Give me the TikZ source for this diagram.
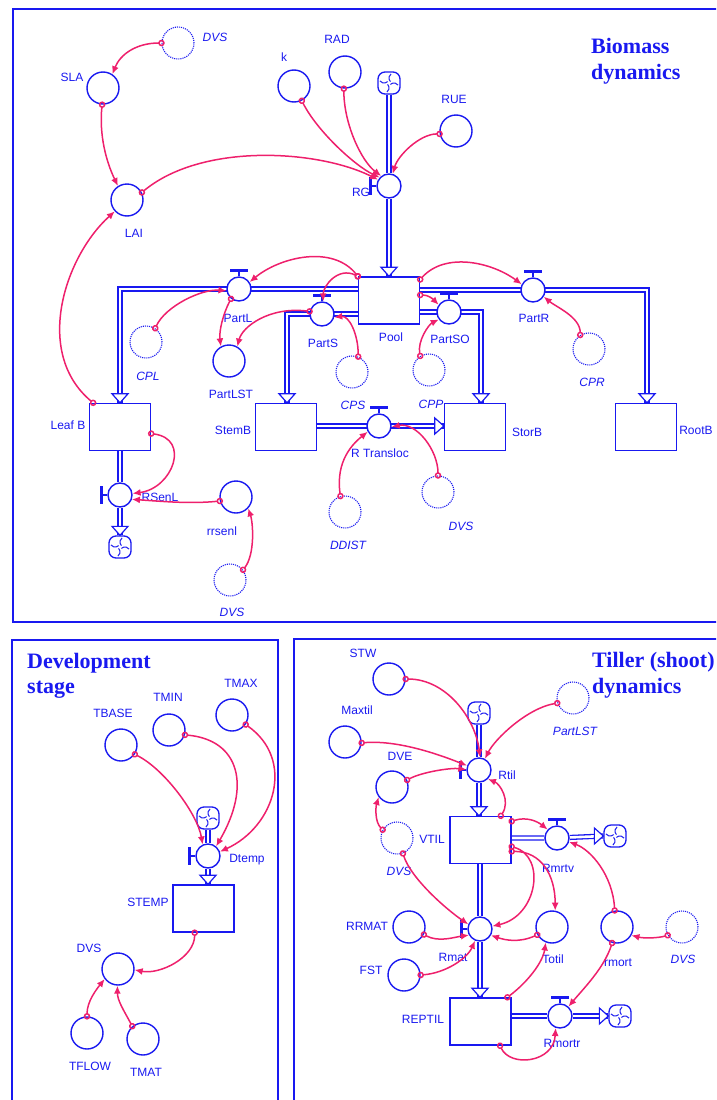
\documentclass[tikz,border=0pt]{standalone}
\usepackage{fontspec}
\usetikzlibrary{arrows.meta,backgrounds}
\newfontfamily\lblf{Liberation Sans}
\newfontfamily\ttlf{Liberation Serif}
\definecolor{sblue}{RGB}{25,25,240}
\definecolor{spink}{RGB}{238,32,108}
\newcommand\tophandle[1]{\draw[sblue,line width=1.4] (#1.north) -- ++(0,-5);\draw[sblue,line width=3] (#1.north) ++(-9,-6) -- ++(18,0);}
\newcommand\lefthandle[1]{\draw[sblue,line width=1.4] (#1.west) -- ++(-5,0);\draw[sblue,line width=3] (#1.west) ++(-6,-9) -- ++(0,18);}
\newcommand\flowdown[1]{\draw[sblue,line width=1.2,fill=white] (#1) -- ++(-8,-9) -- ++(16,0) -- cycle;}
\newcommand\flowright[1]{\draw[sblue,line width=1.2,fill=white] (#1) -- ++(-9,-8) -- ++(0,16) -- cycle;}
\begin{document}
\begin{tikzpicture}[x=1pt,y=-1pt,
  aux/.style={circle,draw=sblue,line width=1.4,minimum size=32,inner sep=0,fill=white},
  ghost/.style={circle,draw=sblue,densely dotted,line width=1.1,minimum size=32,inner sep=0},
  valve/.style={circle,draw=sblue,line width=1.4,minimum size=24,inner sep=0,fill=white},
  stock/.style={rectangle,draw=sblue,line width=1.4,minimum width=61,minimum height=47,inner sep=0,fill=white},
  lbl/.style={font=\lblf\fontsize{12}{14}\selectfont,text=sblue,inner sep=0,text height=8.6,text depth=0},
  ilbl/.style={lbl,font=\lblf\itshape\fontsize{12}{14}\selectfont},
  ttl/.style={font=\ttlf\bfseries\fontsize{22}{26}\selectfont,text=sblue,inner sep=0,anchor=base west},
  pipe/.style={draw=sblue,line width=1.3,double=white,double distance=2.6},
  conn/.style={draw=spink,line width=1.5,{Circle[open,length=6.5pt,width=6.5pt]}-{Latex[length=8pt,width=7pt]},shorten <=-3.25pt},
  cloudsym/.style={rectangle,rounded corners=7pt,draw=sblue,line width=1.3,minimum size=22,inner sep=0,fill=white,
    path picture={\foreach \a in {45,135,225,315}{\draw[sblue,line width=1] (path picture bounding box.center) ++(\a:2) arc[start angle=\a+180,end angle=\a+280,radius=5];}}},
  frame/.style={draw=sblue,line width=2.8}
]
\useasboundingbox (0,0) rectangle (716,1100);
\clip (0,0) rectangle (716,1100);
% frames
\draw[frame] (13,9) rectangle (725,622);
\draw[frame] (12,640) rectangle (278,1110);
\draw[frame] (294,639) rectangle (725,1110);
% titles
\node[ttl] (t1a) at (591,53) {Biomass};
\node[ttl] (t1b) at (591,79) {dynamics};
\node[ttl] (t2a) at (27,668) {Development};
\node[ttl] (t2b) at (27,693) {stage};
\node[ttl] (t3a) at (592,667) {Tiller (shoot)};
\node[ttl] (t3b) at (592,693) {dynamics};

% ===== Biomass dynamics =====
\node[ghost] (DVSa) at (178,43) {};
\node[ilbl] (lDVSa) at (215,37) {DVS};
\node[aux] (SLA) at (103,88) {};
\node[lbl] (lSLA) at (72,77) {SLA};
\node[aux] (LAI) at (127,200) {};
\node[lbl] (lLAI) at (134,233) {LAI};
\node[aux] (k) at (294,86) {};
\node[lbl] (lk) at (284,57) {k};
\node[aux] (RAD) at (345,72) {};
\node[lbl] (lRAD) at (337,39) {RAD};
\node[aux] (RUE) at (456,131) {};
\node[lbl] (lRUE) at (454,99) {RUE};
\node[cloudsym] (cRG) at (389,83) {};
\node[valve] (RG) at (389,186) {};
\node[stock] (Pool) at (389,300.5) {};
\node[lbl] (lPool) at (391,337) {Pool};
\node[valve] (PartL) at (239,289) {};
\node[lbl] (lPartL) at (238,318) {PartL};
\node[valve] (PartS) at (322,314) {};
\node[lbl] (lPartS) at (323,343) {PartS};
\node[valve] (PartSO) at (449,312) {};
\node[lbl] (lPartSO) at (450,339) {PartSO};
\node[valve] (PartR) at (533,290) {};
\node[lbl] (lPartR) at (534,318) {PartR};
\node[stock] (LeafB) at (120,427) {};
\node[lbl] (lLeafB) at (68,425) {Leaf B};
\node[stock] (StemB) at (286,427) {};
\node[lbl] (lStemB) at (233,430) {StemB};
\node[stock] (StorB) at (475,427) {};
\node[lbl] (lStorB) at (527,432) {StorB};
\node[stock] (RootB) at (646,427) {};
\node[lbl] (lRootB) at (696,430) {RootB};
\node[ghost] (CPL) at (146,342) {};
\node[ilbl] (lCPL) at (148,376) {CPL};
\node[aux] (PartLST) at (229,361) {};
\node[lbl] (lPartLST) at (231,394) {PartLST};
\node[ghost] (CPS) at (352,372) {};
\node[ilbl] (lCPS) at (353,405) {CPS};
\node[ghost] (CPP) at (429,370) {};
\node[ilbl] (lCPP) at (431,404) {CPP};
\node[ghost] (CPR) at (589,349) {};
\node[ilbl] (lCPR) at (592,382) {CPR};
\node[valve] (RTransloc) at (379,426) {};
\node[lbl] (lRTransloc) at (380,453) {R Transloc};
\node[ghost] (DDIST) at (345,512) {};
\node[ilbl] (lDDIST) at (348,545) {DDIST};
\node[ghost] (DVSb) at (438,492) {};
\node[ilbl] (lDVSb) at (461,526) {DVS};
\node[valve] (RSenL) at (120,495) {};
\node[lbl] (lRSenL) at (160,497) {RSenL};
\node[cloudsym] (cLf) at (120,547) {};
\node[aux] (rrsenl) at (236,497) {};
\node[lbl] (lrrsenl) at (222,531) {rrsenl};
\node[ghost] (DVSc) at (230,580) {};
\node[ilbl] (lDVSc) at (232,612) {DVS};
\coordinate (cL) at (120,289);
\coordinate (cS) at (287,314);
\coordinate (cSO) at (481,312);
\coordinate (cR) at (647,290);

% ===== Development stage =====
\node[aux] (TBASE) at (121,745) {};
\node[lbl] (lTBASE) at (113,713) {TBASE};
\node[aux] (TMIN) at (169,730) {};
\node[lbl] (lTMIN) at (168,697) {TMIN};
\node[aux] (TMAX) at (232,715) {};
\node[lbl] (lTMAX) at (241,683) {TMAX};
\node[cloudsym] (cD) at (208,818) {};
\node[valve] (Dtemp) at (208,856) {};
\node[lbl] (lDtemp) at (247,858) {Dtemp};
\node[stock] (STEMP) at (203.5,908.5) {};
\node[lbl] (lSTEMP) at (148,902) {STEMP};
\node[aux] (DVSd) at (118,969) {};
\node[lbl] (lDVSd) at (89,948) {DVS};
\node[aux] (TFLOW) at (87,1033) {};
\node[lbl] (lTFLOW) at (90,1066) {TFLOW};
\node[aux] (TMAT) at (143,1039) {};
\node[lbl] (lTMAT) at (146,1072) {TMAT};

% ===== Tiller dynamics =====
\node[aux] (STW) at (389,679) {};
\node[lbl] (lSTW) at (363,653) {STW};
\node[aux] (Maxtil) at (345,742) {};
\node[lbl] (lMaxtil) at (357,710) {Maxtil};
\node[aux] (DVE) at (392,787) {};
\node[lbl] (lDVE) at (400,756) {DVE};
\node[ghost] (DVSt) at (397,838) {};
\node[ilbl] (lDVSt) at (399,871) {DVS};
\node[ghost] (PLSTg) at (573,698) {};
\node[ilbl] (lPLSTg) at (575,731) {PartLST};
\node[cloudsym] (cT) at (479,713) {};
\node[valve] (Rtil) at (479,770) {};
\node[lbl] (lRtil) at (507,775) {Rtil};
\node[stock] (VTIL) at (480.5,840) {};
\node[lbl] (lVTIL) at (432,839) {VTIL};
\node[valve] (Rmrtv) at (557,838) {};
\node[lbl] (lRmrtv) at (558,868) {Rmrtv};
\node[cloudsym] (cV) at (615,836) {};
\node[valve] (Rmat) at (480,929) {};
\node[lbl] (lRmat) at (453,957) {Rmat};
\node[aux] (Totil) at (552,927) {};
\node[lbl] (lTotil) at (553,959) {Totil};
\node[aux] (rmort) at (617,927) {};
\node[lbl] (lrmort) at (618,962) {rmort};
\node[ghost] (DVSr) at (682,927) {};
\node[ilbl] (lDVSr) at (683,959) {DVS};
\node[aux] (RRMAT) at (409,927) {};
\node[lbl] (lRRMAT) at (367,926) {RRMAT};
\node[aux] (FST) at (404,975) {};
\node[lbl] (lFST) at (371,970) {FST};
\node[stock] (REPTIL) at (480.5,1021.5) {};
\node[lbl] (lREPTIL) at (423,1019) {REPTIL};
\node[valve] (Rmortr) at (560,1016) {};
\node[lbl] (lRmortr) at (562,1043) {Rmortr};
\node[cloudsym] (cR2) at (620,1016) {};

% ===== pipes (flows) =====
\begin{scope}[on background layer]
\draw[pipe] (cRG) -- (RG) -- (Pool.north);
\flowdown{Pool.north}
\draw[pipe] (Pool.west |- PartL) -- (cL) -- (cL |- LeafB.north);
\flowdown{cL |- LeafB.north}
\draw[pipe] (Pool.west |- PartS) -- (cS) -- (cS |- StemB.north);
\flowdown{cS |- StemB.north}
\draw[pipe] (Pool.east |- PartSO) -- (cSO) -- (cSO |- StorB.north);
\flowdown{cSO |- StorB.north}
\draw[pipe] (Pool.east |- PartR) -- (cR) -- (cR |- RootB.north);
\flowdown{cR |- RootB.north}
\draw[pipe] (StemB.east |- RTransloc) -- (StorB.west |- RTransloc);
\flowright{StorB.west |- RTransloc}
\draw[pipe] (LeafB.south) -- (RSenL) -- (cLf.north);
\flowdown{cLf.north}
\draw[pipe] (cD) -- (Dtemp) -- (Dtemp |- STEMP.north);
\flowdown{Dtemp |- STEMP.north}
\draw[pipe] (cT) -- (Rtil) -- (Rtil |- VTIL.north);
\flowdown{Rtil |- VTIL.north}
\draw[pipe] (VTIL.south -| Rmat) -- (Rmat) -- (Rmat |- REPTIL.north);
\flowdown{Rmat |- REPTIL.north}
\draw[pipe] (VTIL.east |- Rmrtv) -- (Rmrtv) -- (cV.west);
\flowright{cV.west}
\draw[pipe] (REPTIL.east |- Rmortr) -- (Rmortr) -- (cR2.west);
\flowright{cR2.west}
\end{scope}

% valve handles
\lefthandle{RG}
\tophandle{PartL}
\tophandle{PartS}
\tophandle{PartSO}
\tophandle{PartR}
\tophandle{RTransloc}
\lefthandle{RSenL}
\lefthandle{Dtemp}
\lefthandle{Rtil}
\tophandle{Rmrtv}
\lefthandle{Rmat}
\tophandle{Rmortr}
\node[lbl] (lRG) at (361,192) {RG};

% ===== connectors: biomass =====
\draw[conn] (DVSa.180) .. controls +(-25,0) and +(8,-20) .. (SLA.56);
\draw[conn] (SLA.267) .. controls +(-3,30) and +(-12,-25) .. (LAI.123);
\draw[conn] (LAI.27) .. controls +(60,-50) and +(-60,-30) .. (RG.150);
\draw[conn] (k.298) .. controls +(15,30) and +(-25,-12) .. (RG.138);
\draw[conn] (RAD.266) .. controls +(0,35) and +(-20,-15) .. (RG.128);
\draw[conn] (RUE.190) .. controls +(-20,0) and +(5,-18) .. (RG.73);
\draw[conn] (Pool.north west) .. controls +(-25,-32) and +(30,-25) .. (PartL.33);
\draw[conn] (Pool.north west) .. controls +(-20,-10) and +(0,-15) .. (PartS.85);
\draw[conn] (CPL.56) .. controls +(10,-22) and +(-25,-2) .. (PartL.188);
\draw[conn] (PartL.231) .. controls +(-8,15) and +(-2,-15) .. (PartLST.119);
\draw[conn] (PartS.168) .. controls +(-40,-5) and +(5,-20) .. (PartLST.60);
\draw[conn] (CPS.68) .. controls +(0,-22) and +(15,-2) .. (PartS.345);
\draw[conn] (Pool.10) .. controls +(8,0) and +(-6,-6) .. (PartSO.145);
\draw[conn] (Pool.34) .. controls +(25,-28) and +(-30,-22) .. (PartR.153);
\draw[conn] (CPP.122) .. controls +(-3,-15) and +(-10,5) .. (PartSO.216);
\draw[conn] (CPR.122) .. controls +(0,-18) and +(12,10) .. (PartR.328);
\draw[conn] (LeafB.138) .. controls +(-60,-50) and +(-50,45) .. (LAI.223);
\draw[conn] (LeafB.348) .. controls +(40,5) and +(40,-5) .. (RSenL.7);
\draw[conn] (rrsenl.194) .. controls +(-30,3) and +(30,2) .. (RSenL.-20);
\draw[conn] (DVSc.38) .. controls +(12,-15) and +(5,15) .. (rrsenl.317);
\draw[conn] (DDIST.106) .. controls +(-5,-35) and +(-15,12) .. (RTransloc.207);
\draw[conn] (DVSb.90) .. controls +(0,-25) and +(25,-5) .. (RTransloc.356);

% ===== connectors: development =====
\draw[conn] (TBASE.326) .. controls +(30,15) and +(-5,-30) .. (Dtemp.115);
\draw[conn] (TMIN.343) .. controls +(55,5) and +(35,-60) .. (Dtemp.50);
\draw[conn] (TMAX.325) .. controls +(50,35) and +(55,-25) .. (Dtemp.20);
\draw[conn] (STEMP.250) .. controls +(0,25) and +(25,5) .. (DVSd.357);
\draw[conn] (TFLOW.90) .. controls +(0,-15) and +(-8,10) .. (DVSd.217);
\draw[conn] (TMAT.130) .. controls +(-8,-15) and +(0,15) .. (DVSd.268);

% ===== connectors: tiller =====
\draw[conn] (STW.0) .. controls +(40,0) and +(-5,-40) .. (Rtil.85);
\draw[conn] (PLSTg.198) .. controls +(-30,5) and +(10,-20) .. (Rtil.62);
\draw[conn] (Maxtil.357) .. controls +(35,-3) and +(-30,-12) .. (Rtil.160);
\draw[conn] (DVE.25) .. controls +(15,-8) and +(-15,-2) .. (Rtil.178);
\draw[conn] (DVSt.150) .. controls +(-8,-8) and +(-3,10) .. (DVE.217);
\draw[conn] (DVSt.291) .. controls +(8,25) and +(-22,-15) .. (Rmat.158);
\draw[conn] (VTIL.50) .. controls +(10,-15) and +(12,5) .. (Rtil.315);
\draw[conn] (VTIL.31) .. controls +(15,-5) and +(-10,-8) .. (Rmrtv.138);
\draw[conn] (VTIL.-12) .. controls +(35,10) and +(45,-10) .. (Rmat.13);
\draw[conn] (VTIL.-20) .. controls +(30,0) and +(0,-35) .. (Totil.79);
\draw[conn] (rmort.98) .. controls +(-2,-35) and +(22,8) .. (Rmrtv.342);
\draw[conn] (RRMAT.333) .. controls +(15,8) and +(-15,2) .. (Rmat.209);
\draw[conn] (FST.0) .. controls +(25,-2) and +(-8,18) .. (Rmat.247);
\draw[conn] (Totil.208) .. controls +(-18,8) and +(15,5) .. (Rmat.330);
\draw[conn] (DVSr.210) .. controls +(-10,3) and +(12,3) .. (rmort.330);
\draw[conn] (rmort.253) .. controls +(-8,25) and +(15,-18) .. (Rmortr.48);
\draw[conn] (REPTIL.42) .. controls +(20,-15) and +(-3,20) .. (Totil.248);
\draw[conn] (REPTIL.-51) .. controls +(10,22) and +(-2,35) .. (Rmortr.250);
\end{tikzpicture}
\end{document}
